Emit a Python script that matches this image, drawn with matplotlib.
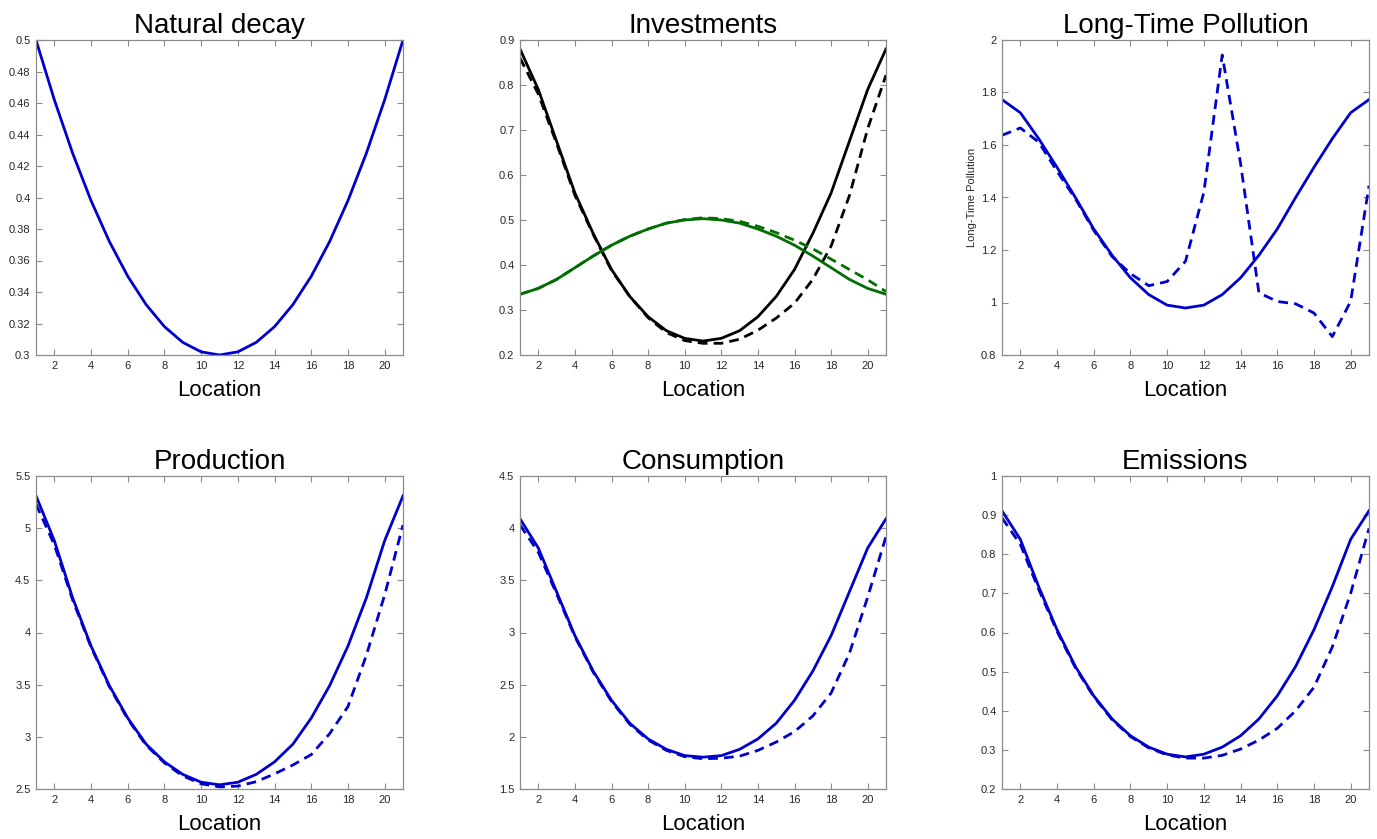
import numpy as np
import matplotlib
matplotlib.use('Agg')
import matplotlib.pyplot as plt
from matplotlib.ticker import FuncFormatter, MultipleLocator

plt.rcParams['font.family'] = ['Liberation Sans', 'DejaVu Sans']

location = list(range(1, 22))

# Natural decay
decay = [0.5, 0.462, 0.428, 0.398, 0.372, 0.35, 0.332, 0.318, 0.308, 0.302, 0.3,
         0.302, 0.308, 0.318, 0.332, 0.35, 0.372, 0.398, 0.428, 0.462, 0.5]

# Investments (black = one kind, green = other kind; solid vs dashed scenario)
inv_black = [0.88, 0.79, 0.675, 0.56, 0.47, 0.39, 0.33, 0.285, 0.254, 0.237, 0.231,
             0.237, 0.254, 0.285, 0.33, 0.39, 0.47, 0.56, 0.675, 0.79, 0.88]
inv_black_d = [0.86, 0.78, 0.67, 0.555, 0.468, 0.388, 0.33, 0.283, 0.25, 0.232, 0.226,
               0.226, 0.235, 0.255, 0.282, 0.315, 0.368, 0.442, 0.554, 0.703, 0.822]
inv_green = [0.335, 0.348, 0.368, 0.394, 0.42, 0.444, 0.464, 0.48, 0.493, 0.5, 0.503,
             0.5, 0.493, 0.48, 0.464, 0.444, 0.42, 0.394, 0.368, 0.348, 0.335]
inv_green_d = [0.335, 0.348, 0.368, 0.394, 0.42, 0.444, 0.464, 0.48, 0.493, 0.501, 0.505,
               0.503, 0.497, 0.486, 0.472, 0.455, 0.436, 0.413, 0.39, 0.367, 0.341]

# Long-time pollution
poll = [1.773, 1.723, 1.624, 1.515, 1.4, 1.28, 1.18, 1.094, 1.03, 0.99, 0.979,
        0.99, 1.03, 1.094, 1.18, 1.28, 1.4, 1.515, 1.624, 1.723, 1.773]
poll_d = [1.637, 1.665, 1.611, 1.5, 1.395, 1.275, 1.175, 1.11, 1.064, 1.08, 1.157,
          1.42, 1.943, 1.53, 1.037, 1.004, 0.995, 0.96, 0.87, 1.004, 1.445]

# Production
prod = [5.31, 4.88, 4.33, 3.87, 3.49, 3.18, 2.93, 2.76, 2.64, 2.565, 2.54,
        2.565, 2.64, 2.76, 2.93, 3.18, 3.49, 3.87, 4.33, 4.88, 5.31]
prod_d = [5.23, 4.84, 4.31, 3.86, 3.48, 3.17, 2.92, 2.75, 2.625, 2.55, 2.52,
          2.528, 2.57, 2.645, 2.73, 2.83, 3.03, 3.29, 3.78, 4.36, 5.03]

# Consumption
cons = [4.09, 3.81, 3.39, 2.97, 2.63, 2.35, 2.13, 1.98, 1.88, 1.82, 1.805,
        1.82, 1.88, 1.98, 2.13, 2.35, 2.63, 2.97, 3.39, 3.81, 4.09]
cons_d = [4.03, 3.77, 3.37, 2.96, 2.62, 2.34, 2.12, 1.97, 1.87, 1.81, 1.79,
          1.795, 1.815, 1.87, 1.95, 2.05, 2.2, 2.42, 2.8, 3.34, 3.92]

# Emissions
emis = [0.911, 0.838, 0.717, 0.607, 0.513, 0.438, 0.379, 0.336, 0.307, 0.289, 0.282,
        0.289, 0.307, 0.336, 0.379, 0.438, 0.513, 0.607, 0.717, 0.838, 0.911]
emis_d = [0.893, 0.825, 0.71, 0.603, 0.51, 0.436, 0.377, 0.334, 0.305, 0.287, 0.279,
          0.279, 0.286, 0.302, 0.325, 0.355, 0.4, 0.46, 0.563, 0.7, 0.866]

BLUE = '#0000CC'
GREEN = '#006E00'
BLACK = '#000000'
LW = 2.0
DASH = (3.5, 2.2)

fig = plt.figure(figsize=(13.77, 8.39), dpi=100)

W, H = 1377, 839
def axes_px(x0, y0, x1, y1):
    return fig.add_axes([x0 / W, 1 - y1 / H, (x1 - x0) / W, (y1 - y0) / H])

cols = [(36, 403), (520, 886), (1002, 1369)]
rows = [(40, 355), (476, 789)]

def style(ax, title, ylim, ystep):
    ax.set_xlim(1, 21)
    ax.set_ylim(*ylim)
    ax.set_xticks(range(2, 21, 2))
    ax.yaxis.set_major_locator(MultipleLocator(ystep))
    ax.yaxis.set_major_formatter(FuncFormatter(lambda v, p: '{:g}'.format(round(v, 4))))
    ax.tick_params(direction='in', top=True, right=True, length=4, width=0.8,
                   color='#8c8c8c', labelcolor='#262626', labelsize=8, pad=4)
    for s in ax.spines.values():
        s.set_color('#8c8c8c')
        s.set_linewidth(0.9)
    ax.set_title(title, fontsize=20, pad=5)
    ax.set_xlabel('Location', fontsize=16, labelpad=7)

# Natural decay
ax = axes_px(cols[0][0], rows[0][0], cols[0][1], rows[0][1])
ax.plot(location, decay, color=BLUE, lw=LW)
style(ax, 'Natural decay', (0.3, 0.5), 0.02)

# Investments
ax = axes_px(cols[1][0], rows[0][0], cols[1][1], rows[0][1])
ax.plot(location, inv_black, color=BLACK, lw=LW)
ax.plot(location, inv_black_d, color=BLACK, lw=LW, dashes=DASH)
ax.plot(location, inv_green, color=GREEN, lw=LW)
ax.plot(location, inv_green_d, color=GREEN, lw=LW, dashes=DASH)
style(ax, 'Investments', (0.2, 0.9), 0.1)

# Long-Time Pollution
ax = axes_px(cols[2][0], rows[0][0], cols[2][1], rows[0][1])
ax.plot(location, poll, color=BLUE, lw=LW)
ax.plot(location, poll_d, color=BLUE, lw=LW, dashes=DASH)
style(ax, 'Long-Time Pollution', (0.8, 2.0), 0.2)
ax.set_ylabel('Long-Time Pollution', fontsize=8, labelpad=3, color='#262626')

# Production
ax = axes_px(cols[0][0], rows[1][0], cols[0][1], rows[1][1])
ax.plot(location, prod, color=BLUE, lw=LW)
ax.plot(location, prod_d, color=BLUE, lw=LW, dashes=DASH)
style(ax, 'Production', (2.5, 5.5), 0.5)

# Consumption
ax = axes_px(cols[1][0], rows[1][0], cols[1][1], rows[1][1])
ax.plot(location, cons, color=BLUE, lw=LW)
ax.plot(location, cons_d, color=BLUE, lw=LW, dashes=DASH)
style(ax, 'Consumption', (1.5, 4.5), 0.5)

# Emissions
ax = axes_px(cols[2][0], rows[1][0], cols[2][1], rows[1][1])
ax.plot(location, emis, color=BLUE, lw=LW)
ax.plot(location, emis_d, color=BLUE, lw=LW, dashes=DASH)
style(ax, 'Emissions', (0.2, 1.0), 0.1)

fig.savefig('out.png', dpi=100)
